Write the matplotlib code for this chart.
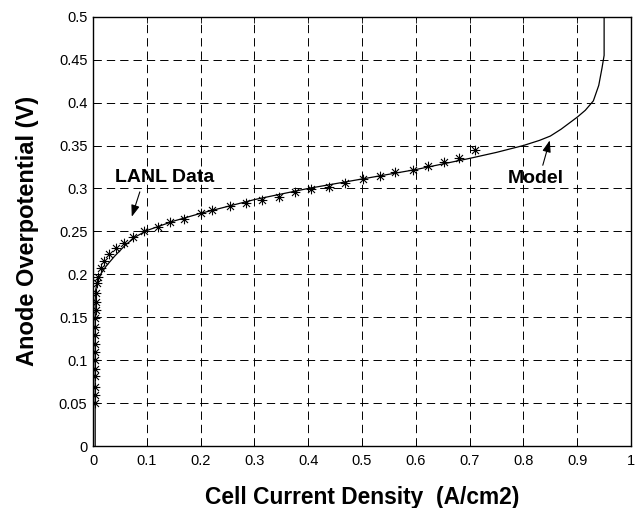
import matplotlib
matplotlib.use("Agg")
import matplotlib.pyplot as plt
from matplotlib.path import Path

plt.rcParams['font.family'] = ['Liberation Sans', 'DejaVu Sans']
plt.rcParams['lines.scale_dashes'] = False

# LANL data (asterisks)
data_x = [0.003, 0.003, 0.003, 0.003, 0.003, 0.003, 0.003, 0.003, 0.004, 0.004,
          0.004, 0.005, 0.005, 0.006, 0.007,
          0.010, 0.015, 0.020, 0.030, 0.043, 0.058, 0.074, 0.095, 0.120, 0.144,
          0.170, 0.200, 0.222, 0.255, 0.284, 0.315, 0.346, 0.375, 0.406, 0.439,
          0.469, 0.501, 0.533, 0.562, 0.594, 0.623, 0.653, 0.681, 0.710]
data_y = [0.050, 0.059, 0.069, 0.081, 0.090, 0.100, 0.110, 0.119, 0.129, 0.139,
          0.149, 0.158, 0.168, 0.178, 0.1895,
          0.197, 0.207, 0.2155, 0.2236, 0.2303, 0.2368, 0.2438, 0.2504, 0.255, 0.261,
          0.2644, 0.271, 0.275, 0.2795, 0.2834, 0.2865, 0.290, 0.2955, 0.2997, 0.302,
          0.3067, 0.3106, 0.3145, 0.319, 0.322, 0.326, 0.331, 0.335, 0.345]

# Model curve
model_x = [0.004, 0.004, 0.005, 0.008, 0.015, 0.025, 0.040, 0.060, 0.080, 0.100,
           0.150, 0.200, 0.300, 0.400, 0.500, 0.600, 0.700, 0.750, 0.800, 0.830,
           0.850, 0.870, 0.900, 0.915, 0.930, 0.940, 0.946, 0.950, 0.950]
model_y = [0.000, 0.170, 0.182, 0.192, 0.201, 0.210, 0.221, 0.234, 0.244, 0.251,
           0.262, 0.271, 0.287, 0.300, 0.311, 0.322, 0.335, 0.342, 0.350, 0.356,
           0.361, 0.369, 0.383, 0.391, 0.402, 0.420, 0.440, 0.455, 0.500]

x_ticks = [0, 0.1, 0.2, 0.3, 0.4, 0.5, 0.6, 0.7, 0.8, 0.9, 1]
y_ticks = [0, 0.05, 0.1, 0.15, 0.2, 0.25, 0.3, 0.35, 0.4, 0.45, 0.5]
x_labels = ['0', '0.1', '0.2', '0.3', '0.4', '0.5', '0.6', '0.7', '0.8', '0.9', '1']
y_labels = ['0', '0.05', '0.1', '0.15', '0.2', '0.25', '0.3', '0.35', '0.4', '0.45', '0.5']

# asterisk marker (MATLAB-like '*': + and x combined)
d = 0.72
asterisk = Path([(0, -1), (0, 1), (-1, 0), (1, 0), (-d, -d), (d, d), (-d, d), (d, -d)],
                [Path.MOVETO, Path.LINETO] * 4)

fig = plt.figure(figsize=(6.42, 5.08), dpi=100)
ax = fig.add_axes([0.1449, 0.1220, 0.8380, 0.8451])

ax.plot(model_x, model_y, color='black', lw=0.9, zorder=3)
ax.plot(data_x, data_y, linestyle='none', marker=asterisk, color='black',
        markersize=7, markeredgewidth=0.8, markerfacecolor='none', zorder=4)

ax.set_xlim(0, 1)
ax.set_ylim(0, 0.5)
ax.set_xticks(x_ticks)
ax.set_xticklabels(x_labels)
ax.set_yticks(y_ticks)
ax.set_yticklabels(y_labels)
ax.tick_params(direction='in', length=4, width=0.6, labelsize=10.5, top=True, right=True,
               colors='black')
ax.tick_params(axis='x', pad=6)
ax.tick_params(axis='y', pad=4)
ax.grid(True, color='black', linestyle=(0, (6, 3.6)), linewidth=0.7)
for s in ax.spines.values():
    s.set_linewidth(1.0)
    s.set_color('black')

ax.set_xlabel('Cell Current Density  (A/cm2)', fontsize=16.4, fontweight='bold', labelpad=13)
ax.set_ylabel('Anode Overpotential (V)', fontsize=17, fontweight='bold', labelpad=14)

arrow_kw = dict(arrowstyle='-|>,head_length=0.5,head_width=0.18', color='black', lw=0.8,
                shrinkA=0, shrinkB=0, mutation_scale=14)
ax.annotate('', xy=(0.072, 0.267), xytext=(0.087, 0.296), arrowprops=arrow_kw)
ax.text(0.134, 0.3127, 'LANL Data', fontsize=14, fontweight='bold', ha='center', va='center')
ax.annotate('', xy=(0.849, 0.356), xytext=(0.836, 0.327), arrowprops=arrow_kw)
ax.text(0.8225, 0.312, 'Model', fontsize=14, fontweight='bold', ha='center', va='center')

fig.savefig('out.png', dpi=100)
